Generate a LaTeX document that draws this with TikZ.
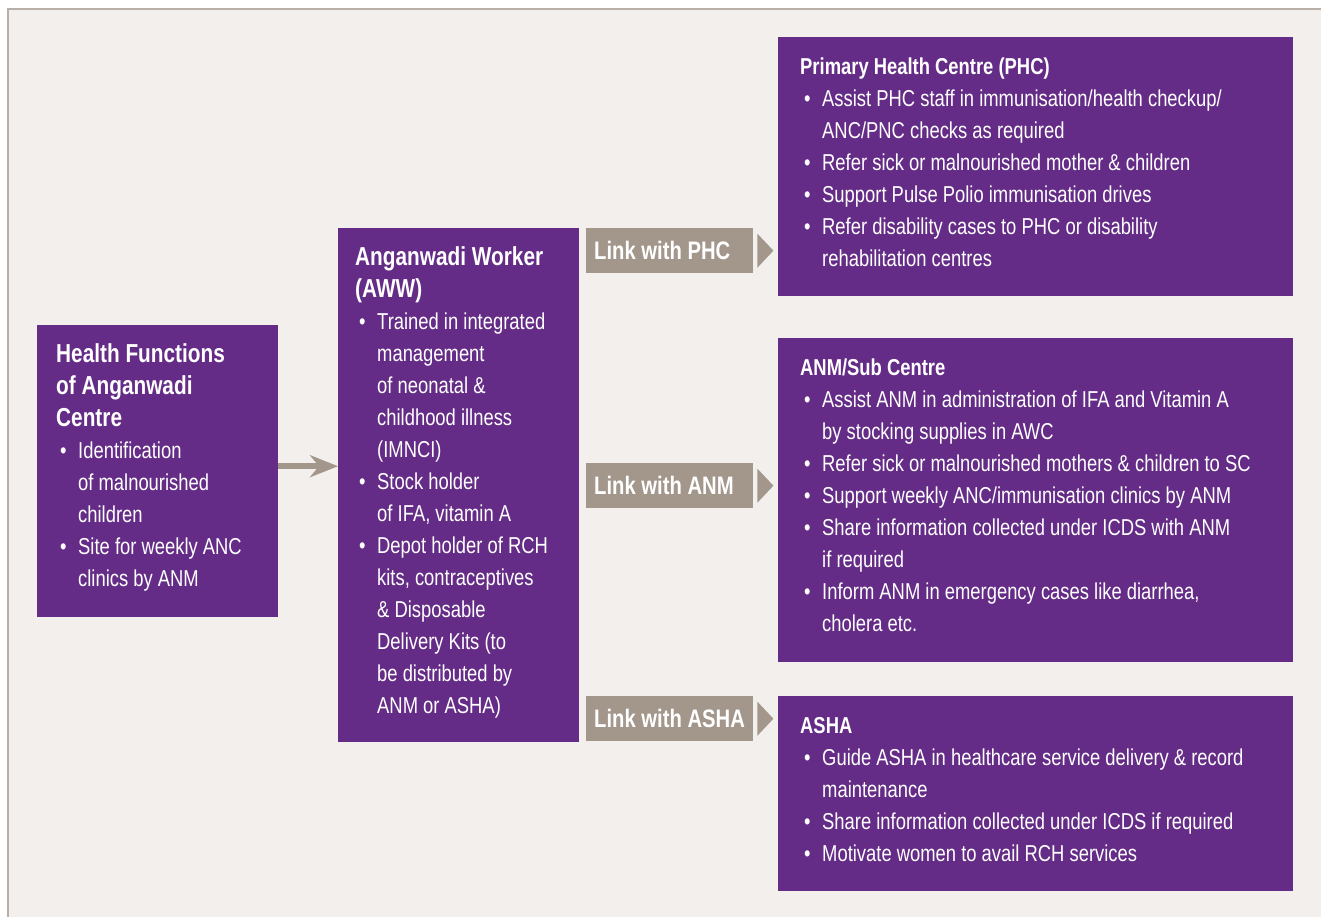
\documentclass[tikz,border=0pt]{standalone}
\usepackage{fontspec}
\setmainfont[FakeStretch=0.8]{Liberation Sans}
\usetikzlibrary{calc,arrows.meta}

\definecolor{awwpurple}{RGB}{101,44,135}
\definecolor{linkgray}{RGB}{163,151,140}
\definecolor{paper}{RGB}{243,239,236}
\definecolor{edgegray}{RGB}{183,175,168}

% bullet item with hanging indent
\newcommand\itm{\par\hangindent=22pt\hangafter=1\makebox[22pt][l]{\hspace{4pt}\textbullet}}
% panel body: width, height, left padding, text
\newcommand\panelbody[4]{\parbox[c][#2][t]{#1}{\leftskip=#3\rightskip=0pt plus 1fil
  \fontsize{23}{32}\selectfont\rule{0pt}{37pt}#4\par}}
\newcommand\bigtitle[1]{{\fontsize{26}{32}\selectfont\bfseries #1}}
% fixed width label of a link tag
\newcommand\linklabel[1]{\makebox[151pt][l]{#1}}

\begin{document}
\begin{tikzpicture}[x=1pt, y=-1pt,
    panel/.style={fill=awwpurple, text=white, inner sep=0pt, anchor=north west},
    tag/.style={fill=linkgray, text=white, inner xsep=8pt, inner ysep=0pt,
      minimum height=45pt, anchor=north west,
      font=\fontsize{25.3}{30}\selectfont\bfseries},
    flow/.style={linkgray, line width=6pt, -{Stealth[length=28pt,width=22pt,inset=9pt]}}]
  \useasboundingbox (0,0) rectangle (1321,917);
  \fill[white] (0,0) rectangle (1321,917);
  \fill[edgegray] (7,8) rectangle (1321,917);
  \fill[paper] (9,10) rectangle (1321,917);

  % health functions and the worker
  \node[panel] (hfac) at (37,325) {\panelbody{241pt}{292pt}{19pt}{%
    \bigtitle{Health Functions\\of Anganwadi\\Centre}
    \itm Identification\\of malnourished\\children
    \itm Site for weekly ANC\\clinics by ANM}};
  \node[panel] (aww) at (338,228) {\panelbody{241pt}{514pt}{17pt}{%
    \bigtitle{Anganwadi Worker\\(AWW)}
    \itm Trained in integrated\\management\\of neonatal \&\\childhood illness\\(IMNCI)
    \itm Stock holder\\of IFA, vitamin A
    \itm Depot holder of RCH\\kits, contraceptives\\\& Disposable\\Delivery Kits (to\\be distributed by\\ANM or ASHA)}};

  % links
  \node[tag] (linkphc) at (586,228) {\linklabel{Link with PHC}};
  \node[tag] (linkanm) at (586,463) {\linklabel{Link with ANM}};
  \node[tag] (linkasha) at (586,696) {\linklabel{Link with ASHA}};
  \foreach \t in {linkphc,linkanm,linkasha}
    \fill[linkgray] ($(\t.east)+(4,-17)$) -- ($(\t.east)+(4,17)$) -- ($(\t.east)+(20,0)$) -- cycle;

  \node[panel] (phc) at (778,37) {\panelbody{515pt}{259pt}{22pt}{%
    \textbf{Primary Health Centre (PHC)}
    \itm Assist PHC staff in immunisation/health checkup/\\ANC/PNC checks as required
    \itm Refer sick or malnourished mother \& children
    \itm Support Pulse Polio immunisation drives
    \itm Refer disability cases to PHC or disability\\rehabilitation centres}};
  \node[panel] (anm) at (778,338) {\panelbody{515pt}{324pt}{22pt}{%
    \textbf{ANM/Sub Centre}
    \itm Assist ANM in administration of IFA and Vitamin A\\by stocking supplies in AWC
    \itm Refer sick or malnourished mothers \& children to SC
    \itm Support weekly ANC/immunisation clinics by ANM
    \itm Share information collected under ICDS with ANM\\if required
    \itm Inform ANM in emergency cases like diarrhea,\\cholera etc.}};
  \node[panel] (asha) at (778,696) {\panelbody{515pt}{195pt}{22pt}{%
    \textbf{ASHA}
    \itm Guide ASHA in healthcare service delivery \& record\\maintenance
    \itm Share information collected under ICDS if required
    \itm Motivate women to avail RCH services}};

  \coordinate (a) at ([yshift=5pt]hfac.east);
  \draw[flow] (a) -- (a -| aww.west);
\end{tikzpicture}
\end{document}
